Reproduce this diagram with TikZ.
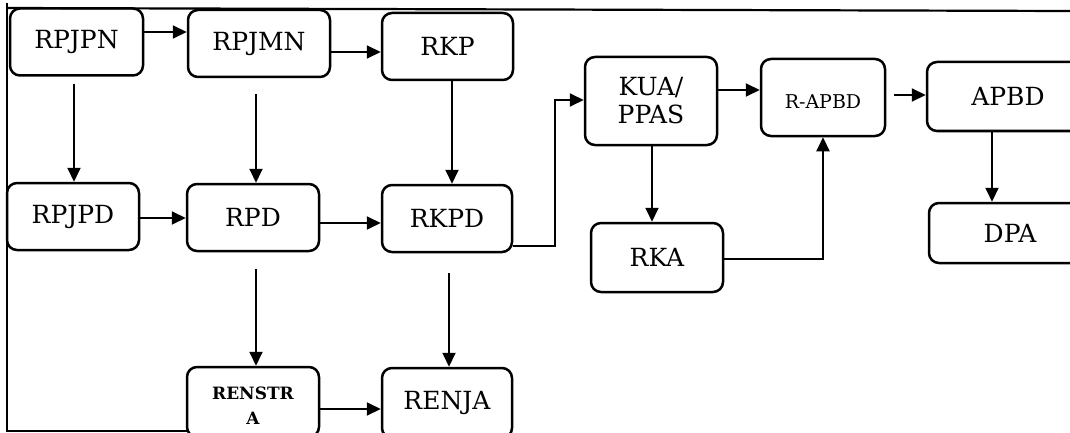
\documentclass[tikz,border=0pt]{standalone}
\usepackage{fontspec}
\setmainfont{DejaVu Serif}
\usetikzlibrary{arrows.meta}
\begin{document}
\begin{tikzpicture}[x=1pt,y=-1pt,
  box/.style={draw=black,line width=2.5pt,rounded corners=10pt,inner sep=0pt,align=center,font=\fontsize{25}{29}\selectfont},
  arr/.style={line width=2pt,-{Triangle[length=14pt,width=13pt]}},
  ln/.style={line width=2pt}]
\useasboundingbox (0,0) rectangle (1070,433);
\clip (0,0) rectangle (1070,433);
% frame
\draw[line width=2.2pt] (7,3) -- (7,431) -- (187,431);
\draw[line width=2.2pt] (7,8) -- (1070,11);
% nodes
\node[box,minimum width=133pt,minimum height=67pt] (rpjpn) at (76.5,42) {RPJPN};
\node[box,minimum width=142pt,minimum height=67pt] (rpjmn) at (259,43.5) {RPJMN};
\node[box,minimum width=131pt,minimum height=67pt] (rkp) at (447.5,46.5) {RKP};
\node[box,minimum width=132pt,minimum height=67pt] (rpjpd) at (73,216.5) {RPJPD};
\node[box,minimum width=132pt,minimum height=67pt] (rpd) at (253,217.5) {RPD};
\node[box,minimum width=130pt,minimum height=67pt] (rkpd) at (447,218.5) {RKPD};
\node[box,minimum width=132pt,minimum height=70pt,font=\fontsize{17}{25}\selectfont\bfseries] (renstra) at (253,402) {\raisebox{-9pt}[0pt][0pt]{\begin{tabular}{@{}c@{}}RENSTR\\A\end{tabular}}};
\node[box,minimum width=130pt,minimum height=70pt] (renja) at (447,403) {RENJA};
\node[box,minimum width=132pt,minimum height=88pt,font=\fontsize{25}{28}\selectfont] (kua) at (651,101) {KUA/\\PPAS};
\node[box,minimum width=124pt,minimum height=77pt,font=\fontsize{19}{22}\selectfont] (rapbd) at (823,97.5) {\raisebox{-11.5pt}[0pt][0pt]{R-APBD}};
\node[box,minimum width=162pt,minimum height=69pt] (apbd) at (1008,96.5) {APBD};
\node[box,minimum width=132pt,minimum height=69pt] (rka) at (657,257.5) {RKA};
\node[box,minimum width=162pt,minimum height=60pt] (dpa) at (1010,233) {DPA};
% connectors
\draw[arr] (rpjpn.east |- 0,32) -- (rpjmn.west |- 0,32);
\draw[arr] (rpjmn.east |- 0,52) -- (rkp.west |- 0,52);
\draw[arr,shorten <=7pt] (rpjpn.south -| 74,0) -- (rpjpd.north -| 74,0);
\draw[arr,shorten <=16pt] (rpjmn.south -| 256,0) -- (rpd.north -| 256,0);
\draw[arr] (rkp.south -| 452,0) -- (rkpd.north -| 452,0);
\draw[arr] (rpjpd.east |- 0,218) -- (rpd.west |- 0,218);
\draw[arr] (rpd.east |- 0,223) -- (rkpd.west |- 0,223);
\draw[arr,shorten <=17pt] (rpd.south -| 256,0) -- (renstra.north -| 256,0);
\draw[arr,shorten <=20pt] (rkpd.south -| 449,0) -- (renja.north -| 449,0);
\draw[arr] (renstra.east |- 0,409) -- (renja.west |- 0,409);
\coordinate (c1) at (555,246);
\draw[arr] (rkpd.east |- c1) -- (c1) -- (555,100) -- (kua.west |- 0,100);
\draw[arr] (kua.south -| 652,0) -- (rka.north -| 652,0);
\draw[arr] (kua.east |- 0,90) -- (rapbd.west |- 0,90);
\coordinate (c2) at (823,259);
\draw[arr] (rka.east |- c2) -- (c2) -- (rapbd.south);
\draw[arr,shorten <=8pt] (rapbd.east |- 0,95) -- (apbd.west |- 0,95);
\draw[arr] (apbd.south -| 992,0) -- (dpa.north -| 992,0);
\end{tikzpicture}
\end{document}
